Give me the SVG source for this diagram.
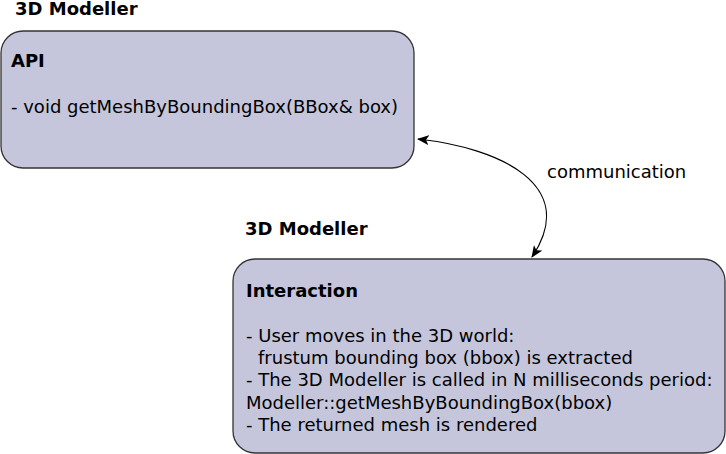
<svg xmlns="http://www.w3.org/2000/svg" width="726" height="454" viewBox="0 0 726 454">
<style>
text{font-family:"DejaVu Sans",sans-serif;font-size:18px;fill:#000}
.b{font-weight:bold}
.box{fill:#c5c6dc;stroke:#333;stroke-width:1.3}
.conn{fill:none;stroke:#000;stroke-width:1.2}
</style>
<defs>
<marker id="arr" viewBox="0 0 12 10" refX="11" refY="5" markerWidth="12" markerHeight="10" markerUnits="userSpaceOnUse" orient="auto-start-reverse">
<path d="M0,0 L12,5 L0,10 L3,5 Z" fill="#000"/>
</marker>
</defs>
<g id="api">
<text class="b" x="15" y="14.5">3D Modeller</text>
<rect class="box" x="1" y="31" width="413" height="137" rx="22" ry="22"/>
<text class="b" x="11" y="67">API</text>
<text x="11" y="113">- void getMeshByBoundingBox(BBox&amp; box)</text>
</g>
<g id="interaction">
<text class="b" x="245" y="235">3D Modeller</text>
<rect class="box" x="233" y="259" width="492" height="194" rx="22" ry="22"/>
<text class="b" x="246" y="297">Interaction</text>
<text x="246" y="342">- User moves in the 3D world:</text>
<text x="258" y="364">frustum bounding box (bbox) is extracted</text>
<text x="246" y="386">- The 3D Modeller is called in N milliseconds period:</text>
<text x="246" y="408.5">Modeller::getMeshByBoundingBox(bbox)</text>
<text x="246" y="431">- The returned mesh is rendered</text>
</g>
<g id="connectors">
<path class="conn" d="M418,139 C500,148 580,185 532,257" marker-start="url(#arr)" marker-end="url(#arr)"/>
<text x="547" y="178">communication</text>
</g>
</svg>
